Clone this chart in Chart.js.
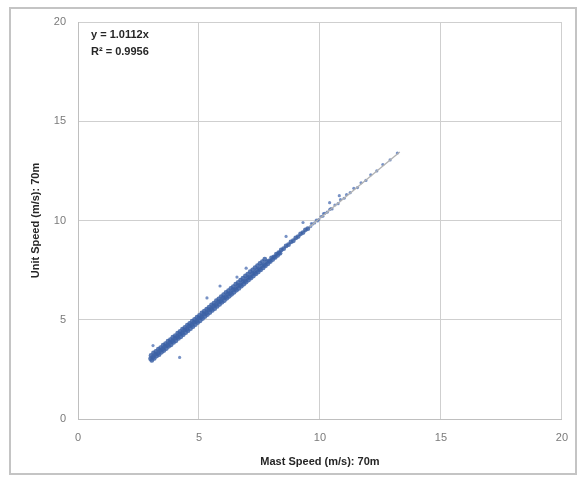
<!DOCTYPE html>
<html>
<head>
<meta charset="utf-8">
<script src="https://cdn.jsdelivr.net/npm/chart.js@4.4.1/dist/chart.umd.min.js"></script>
<style>
  html, body { margin: 0; padding: 0; background: #fff; }
  #wrap { width: 580px; height: 481px; }
</style>
</head>
<body>
<div id="wrap"><canvas id="speedChart" width="580" height="481"></canvas></div>
<script>
// mast vs unit wind speed at 70m
// dense band, 3 - 9.5 m/s
const mastSpeed = [
  3.0, 3.1, 3.2, 3.3, 3.4, 3.5, 3.6, 3.7, 3.8, 3.9, 4.0, 4.1, 4.2, 4.3, 4.4, 4.5, 4.6, 4.7, 4.8, 4.9,
  5.0, 5.1, 5.2, 5.3, 5.4, 5.5, 5.6, 5.7, 5.8, 5.9, 6.0, 6.1, 6.2, 6.3, 6.4, 6.5, 6.6, 6.7, 6.8, 6.9,
  7.0, 7.1, 7.2, 7.3, 7.4, 7.5, 7.6, 7.7, 7.8, 7.9, 8.0, 8.1, 8.2, 8.3, 8.4, 8.5, 8.6, 8.7, 8.8, 8.9,
  9.0, 9.1, 9.2, 9.3, 9.4, 9.5,
  3.05, 3.15, 3.25, 3.35, 3.45, 3.55, 3.65, 3.75, 3.85, 3.95, 4.05, 4.15, 4.25, 4.35, 4.45, 4.55, 4.65, 4.75,
  4.85, 4.95, 5.05, 5.15, 5.25, 5.35, 5.45, 5.55, 5.65, 5.75, 5.85, 5.95, 6.05, 6.15, 6.25, 6.35, 6.45, 6.55,
  6.65, 6.75, 6.85, 6.95, 7.05, 7.15, 7.25, 7.35, 7.45, 7.55, 7.65, 7.75, 7.85, 7.95, 8.05, 8.15, 8.25, 8.35,
  3.02, 3.12, 3.22, 3.32, 3.42, 3.52, 3.62, 3.72, 3.82, 3.92, 4.02, 4.12, 4.22, 4.32, 4.42, 4.52, 4.62, 4.72,
  4.82, 4.92, 5.02, 5.12, 5.22, 5.32, 5.42, 5.52, 5.62, 5.72, 5.82, 5.92, 6.02, 6.12, 6.22, 6.32, 6.42, 6.52,
  6.62, 6.72, 6.82, 6.92, 7.02, 7.12, 7.22, 7.32, 7.42, 7.52, 7.62, 7.72
];
const unitSpeed = [
  3.04, 3.12, 3.26, 3.31, 3.45, 3.52, 3.66, 3.72, 3.86, 3.92, 4.06, 4.13, 4.27, 4.33, 4.48, 4.53, 4.68, 4.74, 4.87, 4.93,
  5.08, 5.14, 5.28, 5.34, 5.49, 5.55, 5.68, 5.75, 5.89, 5.95, 6.09, 6.15, 6.29, 6.35, 6.50, 6.56, 6.70, 6.76, 6.90, 6.96,
  7.10, 7.16, 7.31, 7.37, 7.50, 7.57, 7.71, 7.77, 7.91, 7.97, 8.12, 8.17, 8.31, 8.38, 8.52, 8.58, 8.72, 8.78, 8.92, 8.98,
  9.12, 9.19, 9.33, 9.39, 9.53, 9.59,
  2.95, 3.05, 3.17, 3.24, 3.36, 3.45, 3.55, 3.66, 3.74, 3.86, 3.94, 4.06, 4.14, 4.25, 4.35, 4.45, 4.55, 4.65,
  4.75, 4.86, 4.95, 5.06, 5.16, 5.26, 5.36, 5.47, 5.56, 5.67, 5.77, 5.88, 5.97, 6.08, 6.18, 6.28, 6.38, 6.49,
  6.58, 6.69, 6.79, 6.90, 7.00, 7.10, 7.20, 7.31, 7.40, 7.51, 7.61, 7.72, 7.82, 7.93, 8.03, 8.14, 8.24, 8.35,
  3.20, 3.33, 3.40, 3.52, 3.60, 3.72, 3.80, 3.92, 4.00, 4.12, 4.20, 4.33, 4.41, 4.53, 4.61, 4.73, 4.82, 4.93,
  5.02, 5.13, 5.22, 5.34, 5.43, 5.54, 5.63, 5.75, 5.84, 5.96, 6.05, 6.17, 6.26, 6.38, 6.46, 6.58, 6.67, 6.79,
  6.88, 7.00, 7.09, 7.21, 7.30, 7.42, 7.51, 7.63, 7.72, 7.84, 7.93, 8.05
];

// sparse high-speed points and stray readings
const sparseMast = [
  9.62, 9.7, 9.78, 9.85, 9.95, 10.05, 10.12, 10.2, 10.3, 10.4, 10.5, 10.62, 10.75, 10.85, 11.0, 11.1,
  11.25, 11.4, 11.55, 11.7, 11.9, 12.1, 12.35, 12.6, 12.9, 13.2,
  9.65, 9.9, 10.15, 10.45,
  4.2, 3.1, 5.33, 5.87, 6.57, 6.95, 8.6, 10.4, 10.8, 9.3
];
const sparseUnit = [
  9.70, 9.82, 9.88, 10.02, 10.05, 10.20, 10.22, 10.36, 10.42, 10.55, 10.58, 10.78, 10.85, 11.05, 11.12, 11.30,
  11.40, 11.62, 11.66, 11.90, 12.02, 12.30, 12.50, 12.82, 13.05, 13.40,
  9.85, 9.98, 10.35, 10.60,
  3.10, 3.70, 6.10, 6.70, 7.15, 7.60, 9.20, 10.90, 11.25, 9.90
];

// linear trendline through origin, y = 1.0112x, drawn over the data range
const trendX = [3.0, 13.3];
const trendY = [3.03, 13.45];

const axisTicks = [0, 5, 10, 15, 20];

const points = mastSpeed.map((x, i) => ({ x: x, y: unitSpeed[i] }));
const sparsePoints = sparseMast.map((x, i) => ({ x: x, y: sparseUnit[i] }));
const trend = trendX.map((x, i) => ({ x: x, y: trendY[i] }));

// outer frame + equation label
const chartExtras = {
    id: "chartExtras",
    beforeDraw(chart) {
        const ctx = chart.ctx;
        ctx.save();
        ctx.fillStyle = "#ffffff";
        ctx.fillRect(0, 0, chart.width, chart.height);
        ctx.strokeStyle = "#c4c4c4";
        ctx.lineWidth = 2;
        ctx.strokeRect(10, 8, 566, 466);
        ctx.restore();
    },
    afterDraw(chart) {
        const ctx = chart.ctx;
        ctx.save();
        ctx.fillStyle = "#262626";
        ctx.font = "bold 11px 'Liberation Sans', Arial, sans-serif";
        ctx.textBaseline = "middle";
        ctx.fillText("y = 1.0112x", 91, 35);
        ctx.fillText("R² = 0.9956", 91, 52);
        ctx.restore();
    }
};

const tickFont = { family: "'Liberation Sans', Arial, sans-serif", size: 11 };
const titleFont = { family: "'Liberation Sans', Arial, sans-serif", size: 11, weight: "bold" };

let speedCtx = document.getElementById("speedChart").getContext("2d");
let speedChart = new Chart(speedCtx, {
    type: "scatter",
    data: {
        datasets: [
            {
                label: "Speed",
                data: points,
                order: 0,
                pointStyle: "circle",
                pointRadius: 2.4,
                pointBorderWidth: 0,
                backgroundColor: "rgba(60, 98, 166, 0.85)",
                borderColor: "rgba(60, 98, 166, 0.85)"
            },
            {
                label: "Linear",
                type: "line",
                data: trend,
                order: 1,
                showLine: true,
                pointRadius: 0,
                borderWidth: 1.3,
                borderColor: "#b3b3b3"
            },
            {
                label: "Sparse",
                data: sparsePoints,
                order: 2,
                pointStyle: "circle",
                pointRadius: 1.6,
                pointBorderWidth: 0,
                backgroundColor: "rgba(75, 110, 178, 0.75)",
                borderColor: "rgba(75, 110, 178, 0.75)"
            }
        ]
    },
    options: {
        responsive: false,
        animation: false,
        layout: { padding: { left: 0, top: 22, right: 18, bottom: 0 } },
        plugins: {
            legend: { display: false },
            tooltip: { enabled: false },
            title: { display: false }
        },
        scales: {
            x: {
                type: "linear",
                min: 0,
                max: 20,
                afterBuildTicks: (axis) => { axis.ticks = axisTicks.map(v => ({ value: v })); },
                afterFit: (axis) => { axis.height = 62; },
                grid: { color: "#cfcfcf", lineWidth: 1, drawTicks: false },
                border: { color: "#bfbfbf" },
                ticks: { color: "#7a7a7a", font: tickFont, padding: 12 },
                title: {
                    display: true,
                    text: "Mast Speed (m/s): 70m",
                    color: "#262626",
                    font: titleFont,
                    padding: { top: 0, bottom: 12 }
                }
            },
            y: {
                type: "linear",
                min: 0,
                max: 20,
                afterBuildTicks: (axis) => { axis.ticks = axisTicks.map(v => ({ value: v })); },
                afterFit: (axis) => { axis.width = 78; },
                grid: { color: "#cfcfcf", lineWidth: 1, drawTicks: false },
                border: { color: "#bfbfbf" },
                ticks: { color: "#7a7a7a", font: tickFont, padding: 12 },
                title: {
                    display: true,
                    text: "Unit Speed (m/s): 70m",
                    color: "#262626",
                    font: titleFont,
                    padding: { top: 29, bottom: 0 }
                }
            }
        }
    },
    plugins: [chartExtras]
});
</script>
</body>
</html>
